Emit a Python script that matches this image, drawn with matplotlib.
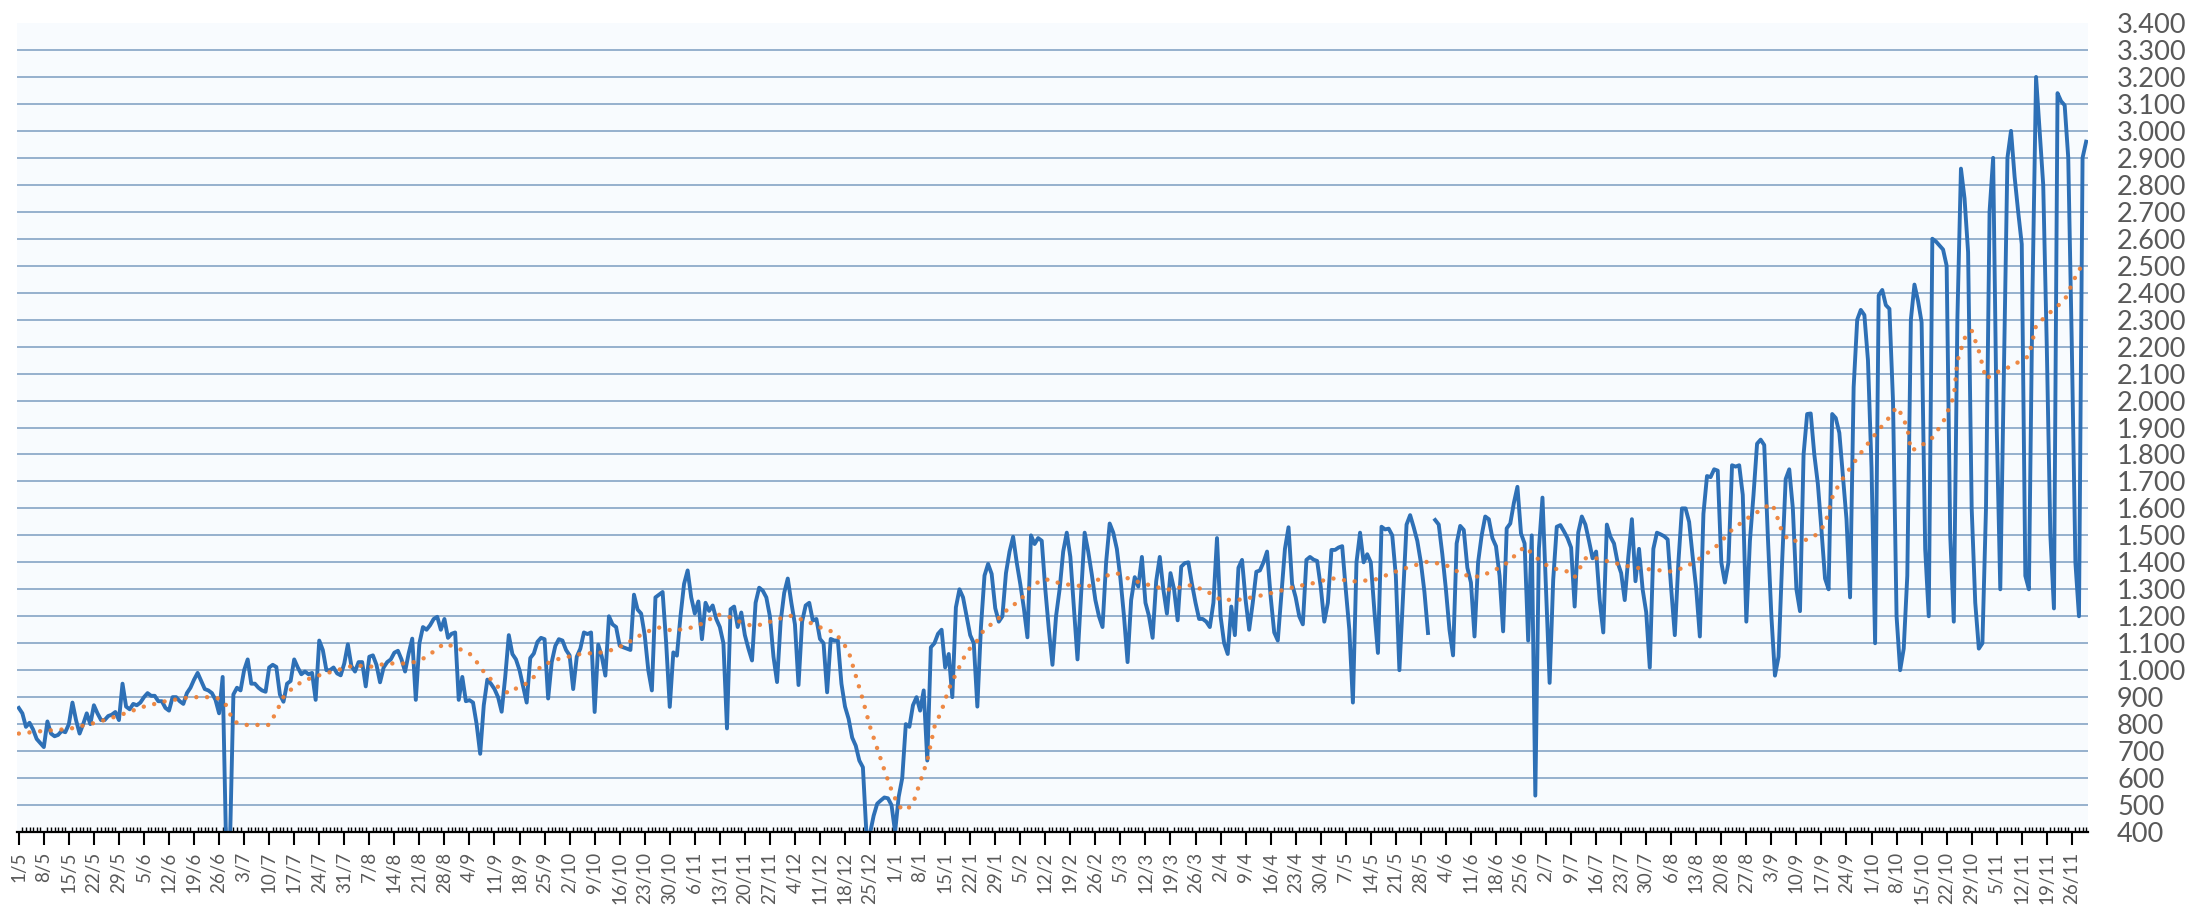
import matplotlib
matplotlib.use("Agg")
import matplotlib.pyplot as plt
import numpy as np
import pandas as pd
from matplotlib.ticker import FuncFormatter

# daily values, one row per week, starting 1/5
start_date = "2022-05-01"
daily = [
    860, 840, 790, 805, 780, 745, 730,
    715, 810, 765, 755, 760, 775, 770,
    800, 880, 815, 765, 800, 840, 800,
    870, 840, 815, 815, 830, 835, 845,
    815, 950, 865, 855, 875, 870, 880,
    900, 915, 905, 905, 885, 885, 860,
    850, 900, 900, 885, 875, 915, 935,
    965, 990, 960, 930, 925, 915, 890,
    840, 975, 320, 330, 910, 935, 925,
    1000, 1040, 950, 950, 935, 925, 920,
    1010, 1020, 1012, 910, 883, 950, 960,
    1040, 1010, 985, 995, 985, 990, 890,
    1110, 1075, 1000, 1000, 1010, 988, 981,
    1025, 1096, 1015, 995, 1030, 1030, 940,
    1050, 1055, 1020, 955, 1010, 1030, 1040,
    1065, 1072, 1040, 995, 1062, 1117, 890,
    1100, 1160, 1150, 1167, 1190, 1198, 1150,
    1190, 1120, 1135, 1140, 890, 975, 885,
    889, 880, 800, 690, 870, 965, 950,
    930, 900, 846, 975, 1130, 1060, 1040,
    1000, 940, 880, 1045, 1062, 1105, 1120,
    1115, 895, 1030, 1090, 1115, 1110, 1075,
    1055, 930, 1050, 1080, 1140, 1134, 1140,
    845, 1095, 1050, 980, 1200, 1170, 1160,
    1091, 1085, 1080, 1075, 1280, 1225, 1210,
    1130, 1000, 925, 1270, 1280, 1290, 1100,
    864, 1066, 1054, 1200, 1320, 1370, 1270,
    1210, 1255, 1115, 1250, 1220, 1240, 1190,
    1160, 1100, 784, 1226, 1236, 1160, 1214,
    1130, 1080, 1036, 1250, 1306, 1295, 1270,
    1200, 1050, 956, 1180, 1287, 1340, 1250,
    1170, 945, 1180, 1240, 1250, 1184, 1190,
    1116, 1100, 918, 1116, 1110, 1110, 950,
    865, 820, 750, 720, 665, 640, 390,
    395, 460, 505, 517, 528, 525, 500,
    400, 530, 600, 800, 790, 870, 900,
    850, 925, 665, 1085, 1100, 1135, 1150,
    1010, 1060, 900, 1233, 1300, 1270, 1200,
    1130, 1100, 865, 1159, 1351, 1394, 1357,
    1230, 1180, 1200, 1360, 1440, 1495, 1400,
    1320, 1230, 1122, 1500, 1468, 1490, 1480,
    1300, 1150, 1020, 1200, 1300, 1440, 1510,
    1420, 1230, 1040, 1280, 1510, 1440, 1355,
    1260, 1200, 1160, 1400, 1544, 1510, 1450,
    1340, 1200, 1030, 1260, 1345, 1310, 1420,
    1250, 1200, 1120, 1330, 1420, 1300, 1210,
    1360, 1300, 1185, 1384, 1397, 1400, 1320,
    1250, 1190, 1190, 1180, 1160, 1250, 1490,
    1200, 1100, 1060, 1236, 1130, 1380, 1409,
    1260, 1150, 1250, 1365, 1370, 1400, 1440,
    1273, 1140, 1110, 1280, 1450, 1530, 1320,
    1270, 1200, 1170, 1409, 1420, 1410, 1405,
    1310, 1180, 1250, 1446, 1446, 1455, 1460,
    1300, 1150, 880, 1400, 1510, 1400, 1430,
    1400, 1220, 1064, 1532, 1522, 1525, 1500,
    1350, 1000, 1273, 1540, 1575, 1530, 1480,
    1400, 1290, 1138, np.nan, 1557, 1540, 1430,
    1300, 1150, 1055, 1470, 1535, 1520, 1380,
    1325, 1125, 1400, 1500, 1570, 1560, 1490,
    1460, 1350, 1144, 1526, 1544, 1620, 1680,
    1507, 1470, 1110, 1500, 535, 1450, 1640,
    1300, 953, 1335, 1532, 1538, 1515, 1490,
    1455, 1236, 1510, 1570, 1540, 1480, 1415,
    1440, 1260, 1140, 1540, 1495, 1470, 1400,
    1360, 1260, 1420, 1560, 1330, 1450, 1300,
    1215, 1010, 1450, 1510, 1504, 1497, 1485,
    1300, 1130, 1400, 1600, 1600, 1550, 1420,
    1300, 1125, 1580, 1720, 1716, 1745, 1740,
    1400, 1325, 1400, 1760, 1755, 1760, 1650,
    1180, 1480, 1650, 1840, 1855, 1835, 1500,
    1200, 980, 1050, 1400, 1709, 1745, 1600,
    1300, 1219, 1800, 1950, 1952, 1800, 1690,
    1520, 1340, 1300, 1950, 1935, 1880, 1720,
    1560, 1270, 2050, 2300, 2336, 2317, 2150,
    1750, 1100, 2390, 2410, 2354, 2340, 2000,
    1200, 1000, 1080, 1350, 2300, 2430, 2370,
    2290, 1450, 1200, 2600, 2590, 2575, 2560,
    2500, 1500, 1180, 2300, 2860, 2750, 2550,
    1600, 1250, 1080, 1100, 1600, 2700, 2900,
    1900, 1300, 2100, 2900, 3000, 2830, 2700,
    2580, 1350, 1300, 2400, 3200, 3000, 2800,
    2200, 1500, 1229, 3140, 3110, 3095, 2900,
    2200, 1400, 1200, 2900, 2960,
]

# trend line (dotted orange), read at irregular day offsets
trend_day = [0, 7, 14, 22, 28, 35, 41, 48, 53, 56, 58, 60, 63, 70, 72, 74, 77,
             80, 84, 89, 94, 98, 103, 108, 111, 114, 117, 119, 122, 124, 126,
             128, 130, 134, 137, 139, 142, 144, 146, 151, 157, 163, 167, 172,
             175, 179, 183, 188, 192, 195, 198, 201, 205, 208, 212, 216, 222,
             225, 228, 230, 232, 234, 236, 238, 240, 242, 244, 246, 248, 250,
             252, 254, 256, 258, 260, 262, 265, 268, 270, 273, 277, 280, 283,
             287, 290, 294, 299, 303, 307, 311, 316, 321, 328, 333, 336, 341,
             346, 352, 357, 362, 367, 373, 379, 385, 389, 394, 399, 404, 408,
             412, 416, 419, 421, 423, 426, 429, 433, 435, 438, 441, 446, 451,
             456, 462, 466, 471, 475, 479, 483, 487, 490, 491, 493, 495, 499,
             502, 505, 507, 509, 512, 516, 520, 523, 525, 526, 528, 529, 531,
             535, 538, 541, 542, 544, 546, 548, 550, 552, 557, 562, 564, 567,
             572, 576, 578]
trend_val = [765, 775, 782, 807, 832, 865, 885, 900, 900, 895, 870, 810, 797,
             797, 845, 900, 940, 963, 981, 1000, 1019, 1012, 1025, 1025, 1031,
             1049, 1080, 1099, 1086, 1074, 1062, 1031, 994, 938, 914, 932, 951,
             975, 1017, 1042, 1060, 1066, 1079, 1115, 1140, 1158, 1146, 1158,
             1177, 1207, 1201, 1183, 1164, 1170, 1189, 1202, 1172, 1153, 1141,
             1110, 1070, 980, 890, 790, 710, 630, 555, 495, 480, 505, 585, 665,
             790, 850, 930, 986, 1067, 1110, 1153, 1180, 1233, 1258, 1314,
             1338, 1326, 1316, 1310, 1347, 1360, 1335, 1316, 1298, 1316, 1286,
             1261, 1261, 1273, 1292, 1310, 1323, 1341, 1329, 1335, 1366, 1384,
             1403, 1390, 1353, 1347, 1366, 1397, 1434, 1458, 1434, 1397, 1378,
             1366, 1345, 1415, 1415, 1398, 1382, 1374, 1366, 1382, 1423, 1464,
             1521, 1561, 1594, 1618, 1594, 1512, 1480, 1480, 1496, 1540, 1640,
             1692, 1749, 1824, 1891, 1938, 1976, 1957, 1900, 1815, 1824, 1862,
             1919, 2014, 2146, 2231, 2260, 2184, 2080, 2099, 2127, 2165, 2278,
             2316, 2373, 2487, 2500]

dates = pd.date_range(start_date, periods=len(daily), freq="D")
x = np.arange(len(daily))
tick_idx = x[::7]
tick_labels = [f"{d.day}/{d.month}" for d in dates[::7]]

plt.rcParams["font.family"] = ["Lato", "DejaVu Sans"]

fig = plt.figure(figsize=(21.94, 9.17), dpi=100)
ax = fig.add_axes([0.00775, 0.0927, 0.9439, 0.8822])
ax.set_facecolor("#f8fbfe")

ax.plot(x, daily, color="#2e70b6", linewidth=2.8, solid_joinstyle="round", zorder=3)
ax.plot(trend_day, trend_val, color="#ed7d31", linewidth=3.2,
        linestyle=(0, (0.01, 2.4)), dash_capstyle="round", alpha=0.9, zorder=4)

ax.set_xlim(-0.5, len(daily) - 0.5)
ax.set_ylim(400, 3400)
ax.set_yticks(np.arange(400, 3401, 100))
ax.yaxis.set_major_formatter(FuncFormatter(lambda v, p: f"{int(v):,}".replace(",", ".")))
ax.yaxis.tick_right()
ax.tick_params(axis="y", length=0, pad=21, labelsize=19.5, labelcolor="#595959")

ax.grid(axis="y", color="#8eabc9", linewidth=1.3, zorder=1)
ygl = ax.get_ygridlines()
ygl[0].set_visible(False)
ygl[-1].set_visible(False)

ax.set_xticks(tick_idx)
ax.set_xticklabels(tick_labels, rotation=90)
ax.set_xticks(x, minor=True)
ax.tick_params(axis="x", which="major", length=9, width=1.5, direction="out",
               pad=5, labelsize=13.5, labelcolor="#595959")
ax.tick_params(axis="x", which="minor", length=3.5, width=1, direction="in")

for s in ["top", "left", "right"]:
    ax.spines[s].set_visible(False)
ax.spines["bottom"].set_linewidth(1.6)
ax.spines["bottom"].set_zorder(5)

fig.savefig("out.png", dpi=100, facecolor="white")
